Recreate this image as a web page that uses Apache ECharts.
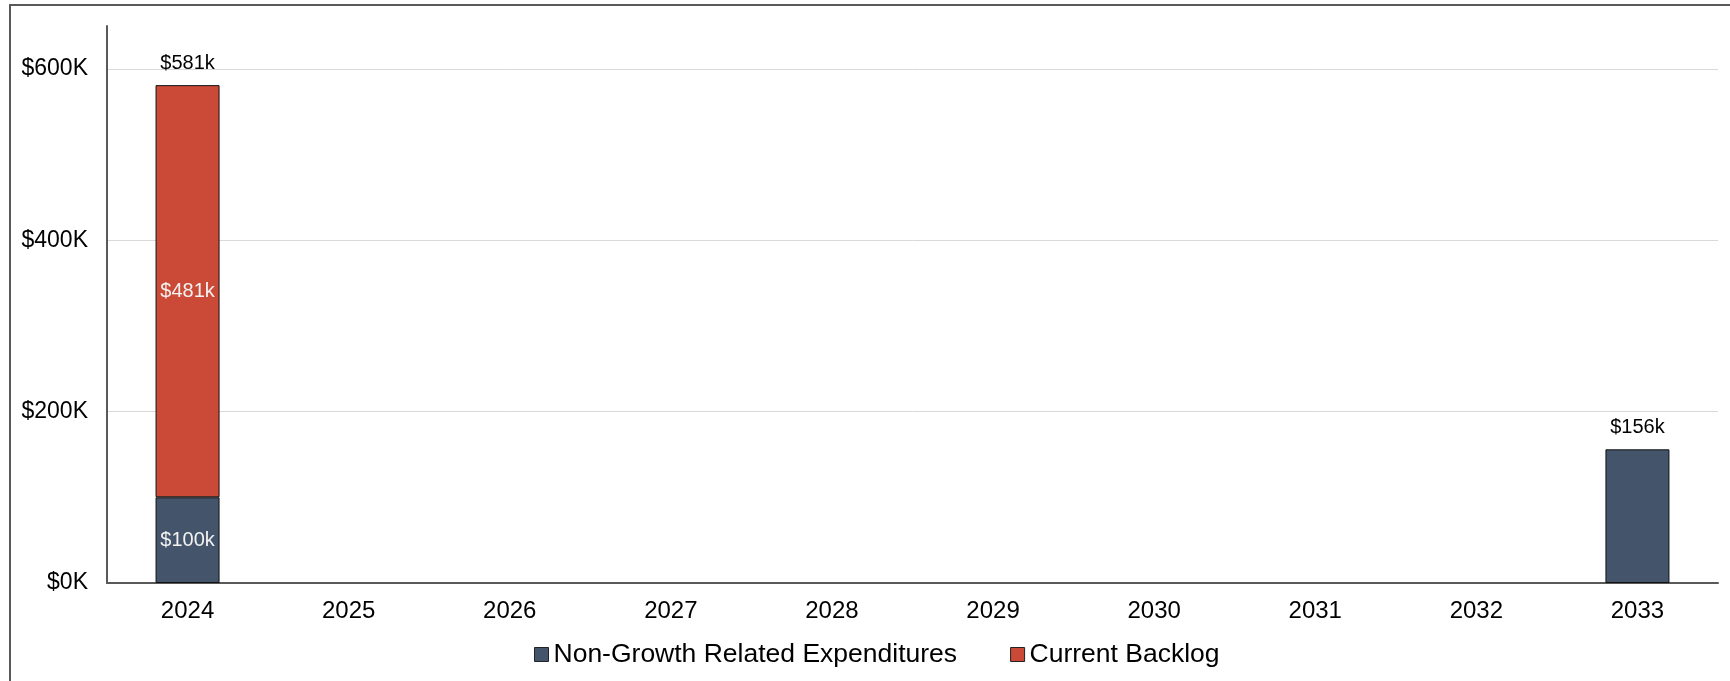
<!DOCTYPE html>
<html>
<head>
<meta charset="utf-8">
<script src="https://cdn.jsdelivr.net/npm/echarts@6/dist/echarts.min.js"></script>
<style>
  html, body { margin: 0; padding: 0; background: #ffffff; }
  #chart { width: 1730px; height: 681px; }
</style>
</head>
<body>
<div id="chart"></div>
<script>
// Yearly expenditures, in thousands of dollars
const years = ['2024', '2025', '2026', '2027', '2028', '2029', '2030', '2031', '2032', '2033'];
const nonGrowth = [100, null, null, null, null, null, null, null, null, 156];
const backlog = [481, null, null, null, null, null, null, null, null, null];
const yTicks = [0, 200, 400, 600];

// Stack totals shown above each bar
const totals = years.map((_, i) => (nonGrowth[i] || 0) + (backlog[i] || 0));

const FONT = '"Liberation Sans", Arial, sans-serif';
const C_NON = '#44546A';
const C_BACK = '#CB4A37';

const chart = echarts.init(document.getElementById('chart'), null, { renderer: 'canvas' });

chart.setOption({
  animation: false,
  backgroundColor: '#ffffff',
  textStyle: { fontFamily: FONT },
  graphic: [{
    type: 'rect',
    shape: { x: 10, y: 5, width: 1760, height: 720 },
    style: { fill: null, stroke: '#595959', lineWidth: 2 },
    silent: true
  }],
  grid: { left: 107, right: 12, top: 26, bottom: 98, containLabel: false },
  legend: {
    data: ['Non-Growth Related Expenditures', 'Current Backlog'],
    left: 534,
    top: 641,
    padding: 0,
    itemWidth: 14,
    itemHeight: 14,
    itemGap: 53,
    icon: 'rect',
    itemStyle: { borderColor: '#222', borderWidth: 1 },
    textStyle: { fontFamily: FONT, fontSize: 26.5, color: '#000' }
  },
  xAxis: {
    type: 'category',
    data: years,
    axisLine: { lineStyle: { color: '#595959', width: 2 } },
    axisTick: { show: false },
    axisLabel: { fontFamily: FONT, fontSize: 24, color: '#000', margin: 16 }
  },
  yAxis: {
    type: 'value',
    min: 0,
    max: 650,
    interval: 200,
    axisLine: { show: true, lineStyle: { color: '#595959', width: 2 } },
    axisTick: { show: false },
    axisLabel: {
      fontFamily: FONT, fontSize: 23, color: '#000', margin: 19,
      showMaxLabel: false,
      formatter: v => (yTicks.indexOf(v) >= 0 ? '$' + v + 'K' : '')
    },
    splitLine: { show: true, showMaxLine: false, lineStyle: { color: '#d9d9d9', width: 1 } }
  },
  series: [
    {
      name: 'Non-Growth Related Expenditures',
      type: 'bar',
      stack: 'cost',
      barWidth: 64,
      barGap: '-100%',
      data: nonGrowth,
      itemStyle: { color: C_NON, borderColor: '#111', borderWidth: 1 },
      label: {
        show: true,
        position: 'inside',
        fontFamily: FONT, fontSize: 20, color: '#f2f2f2',
        formatter: p => (backlog[p.dataIndex] ? '$' + p.value + 'k' : '')
      }
    },
    {
      name: 'Current Backlog',
      type: 'bar',
      stack: 'cost',
      barWidth: 64,
      barGap: '-100%',
      data: backlog,
      itemStyle: { color: C_BACK, borderColor: '#111', borderWidth: 1 },
      label: {
        show: true,
        position: 'inside',
        fontFamily: FONT, fontSize: 20, color: '#f2f2f2',
        formatter: p => (p.value ? '$' + p.value + 'k' : '')
      }
    },
    {
      name: 'Total',
      type: 'bar',
      barWidth: 64,
      barGap: '-100%',
      data: totals,
      silent: true,
      z: 1,
      itemStyle: { color: 'rgba(0,0,0,0)' },
      label: {
        show: true,
        position: 'top',
        distance: 12,
        fontFamily: FONT, fontSize: 20, color: '#000',
        formatter: p => (p.value ? '$' + p.value + 'k' : '')
      }
    }
  ]
});
</script>
</body>
</html>
